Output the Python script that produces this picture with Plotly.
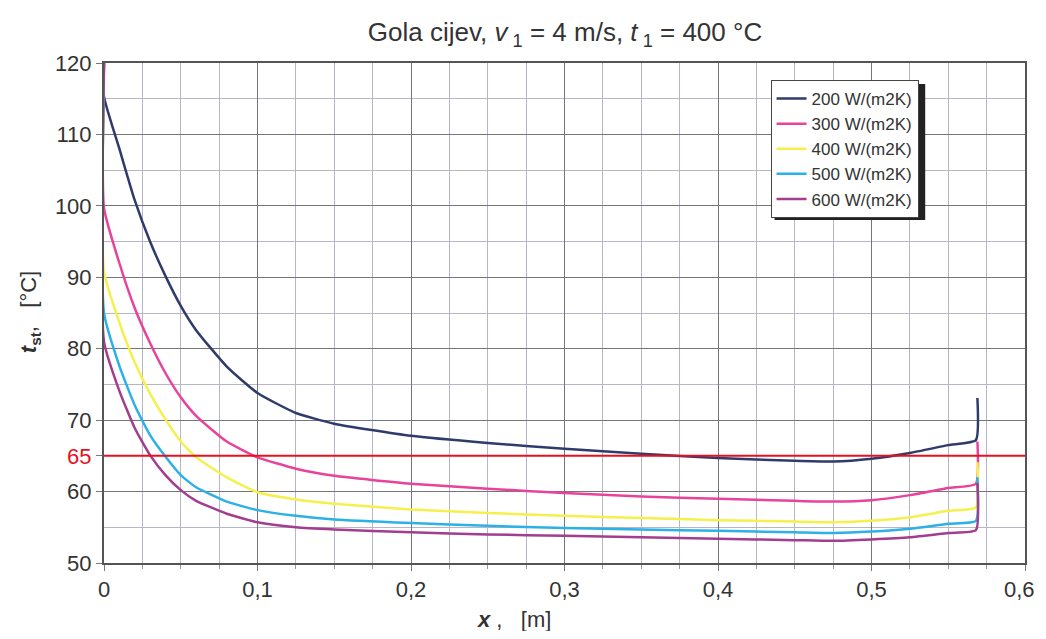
import plotly.graph_objects as go

# ---- data ----
x_pos = [0.0, 0.0, 0.01, 0.02, 0.03, 0.04, 0.05, 0.06, 0.08, 0.1, 0.125, 0.15, 0.2, 0.25,
         0.3, 0.35, 0.4, 0.45, 0.475, 0.5, 0.525, 0.55, 0.568, 0.569]

t_200 = [120, 115.3, 108.0, 100.8, 95.0, 90.2, 86.0, 82.6, 77.5, 73.8, 71.0, 69.5, 67.8, 66.8,
         66.0, 65.3, 64.7, 64.3, 64.2, 64.6, 65.4, 66.5, 67.2, 73.1]
t_300 = [120, 99.7, 92.0, 85.7, 80.8, 76.6, 73.2, 70.6, 67.0, 64.8, 63.2, 62.2, 61.1, 60.4,
         59.8, 59.3, 59.0, 58.7, 58.6, 58.8, 59.5, 60.5, 61.1, 67.0]
t_400 = [120, 90.8, 83.7, 78.1, 73.7, 70.1, 67.0, 64.8, 62.0, 59.9, 58.9, 58.3, 57.5, 57.0,
         56.6, 56.3, 56.0, 55.8, 55.7, 55.9, 56.4, 57.3, 57.8, 64.1]
t_500 = [120, 85.0, 77.6, 72.1, 67.9, 64.9, 62.3, 60.6, 58.6, 57.4, 56.6, 56.1, 55.6, 55.2,
         54.9, 54.7, 54.5, 54.3, 54.2, 54.4, 54.8, 55.5, 55.9, 62.0]
t_600 = [120, 81.0, 74.1, 68.9, 65.1, 62.3, 60.2, 58.7, 56.9, 55.7, 55.0, 54.7, 54.3, 54.0,
         53.8, 53.6, 53.4, 53.2, 53.1, 53.3, 53.6, 54.2, 54.6, 61.2]

series_names = ["200 W/(m2K)", "300 W/(m2K)", "400 W/(m2K)", "500 W/(m2K)", "600 W/(m2K)"]
series_values = [t_200, t_300, t_400, t_500, t_600]
series_colors = ["#2f3b6b", "#e8439b", "#f5f04c", "#2cb0e8", "#a23d8f"]

threshold = 65
x_ticks = [0, 0.1, 0.2, 0.3, 0.4, 0.5, 0.6]
x_ticktext = ["0", "0,1", "0,2", "0,3", "0,4", "0,5", "0,6"]
y_ticks = [50, 60, 65, 70, 80, 90, 100, 110, 120]
y_ticktext = ["50", "60", "<span style='color:#e8101e'>65</span>", "70", "80", "90", "100", "110", "120"]

# ---- figure ----
fig = go.Figure()
for name, vals, col in zip(series_names, series_values, series_colors):
    fig.add_trace(go.Scatter(x=x_pos, y=vals, mode="lines", name=name,
                             line=dict(color=col, width=2.5, shape="spline", smoothing=0.5)))

fig.add_shape(type="line", xref="x", yref="y", x0=0, x1=0.6, y0=threshold, y1=threshold,
              line=dict(color="#e8101e", width=2), layer="above")

# page has an 8px body offset; plot area in page pixels: x 104..1027, y 63..563
OFF = 8
FIG_W, FIG_H = 1030, 623


def px(X):
    return (X - 104) / 923


def py(Y):
    return (563 - Y) / 500


LEG_L, LEG_T, LEG_W, LEG_H = 772, 80, 151, 136
fig.add_shape(type="rect", xref="paper", yref="paper",
              x0=px(LEG_L + 4), x1=px(LEG_L + LEG_W + 4),
              y0=py(LEG_T + LEG_H + 4), y1=py(LEG_T + 4),
              fillcolor="#222222", line=dict(width=0), layer="above")

font_family = "Liberation Sans, Arial, sans-serif"
grid_major = "#75757c"
grid_minor = "#b6b6c4"
txt = "#333333"

fig.update_layout(
    width=FIG_W, height=FIG_H,
    margin=dict(l=104 - OFF, r=FIG_W - (1027 - OFF), t=63 - OFF, b=FIG_H - (563 - OFF)),
    paper_bgcolor="white", plot_bgcolor="white",
    font=dict(family=font_family, size=22, color=txt),
    title=dict(text="Gola cijev, <i>v</i><sub> 1</sub> = 4 m/s, <i>t</i><sub> 1</sub> = 400 °C",
               x=(565 - OFF) / FIG_W, xanchor="center", y=1 - (32 - OFF) / FIG_H, yanchor="middle",
               font=dict(size=26, color=txt)),
    showlegend=True,
    legend=dict(x=px(LEG_L), y=py(LEG_T), xanchor="left", yanchor="top",
                bgcolor="white", bordercolor="#444444", borderwidth=1,
                font=dict(size=17, color=txt), tracegroupgap=0,
                itemwidth=30),
)

# last tick label sits at the page edge: drawn as an annotation nudged inside the figure
x_ticktext_axis = x_ticktext[:-1] + [""]

fig.update_xaxes(range=[0, 0.6], tickvals=x_ticks, ticktext=x_ticktext_axis,
                 showgrid=True, gridcolor=grid_major, gridwidth=1.3,
                 showline=True, linecolor="#555555", linewidth=2, mirror=True,
                 ticks="outside", ticklen=6, tickcolor="#777777",
                 tickfont=dict(size=22, color=txt), zeroline=False,
                 minor=dict(dtick=0.025, tick0=0, showgrid=True, gridcolor=grid_minor,
                            gridwidth=1, ticks="outside", ticklen=4, tickcolor="#999999"))
fig.update_yaxes(range=[50, 120], tickvals=y_ticks, ticktext=y_ticktext,
                 showgrid=True, gridcolor=grid_major, gridwidth=1.3,
                 showline=True, linecolor="#555555", linewidth=2, mirror=True,
                 ticks="outside", ticklen=6, tickcolor="#777777",
                 tickfont=dict(size=22, color=txt), zeroline=False,
                 minor=dict(dtick=5, tick0=0, showgrid=True, gridcolor=grid_minor,
                            gridwidth=1))

fig.add_annotation(text=x_ticktext[-1], xref="x", yref="paper",
                   x=x_ticks[-1], y=py(589), xanchor="center", yanchor="middle", xshift=-6,
                   showarrow=False, font=dict(size=22, color=txt))
fig.add_annotation(text="<b><i>x</i></b> ,   [m]", xref="paper", yref="paper",
                   x=px(515), y=py(619), xanchor="center", yanchor="middle",
                   showarrow=False, font=dict(size=22, color=txt))
fig.add_annotation(text="<b><i>t</i></b><sub><b>st</b></sub>,   [°C]", xref="paper", yref="paper",
                   x=px(30), y=py(312), xanchor="center", yanchor="middle",
                   textangle=-90, showarrow=False, font=dict(size=22, color=txt))

fig.write_html("out.html")
